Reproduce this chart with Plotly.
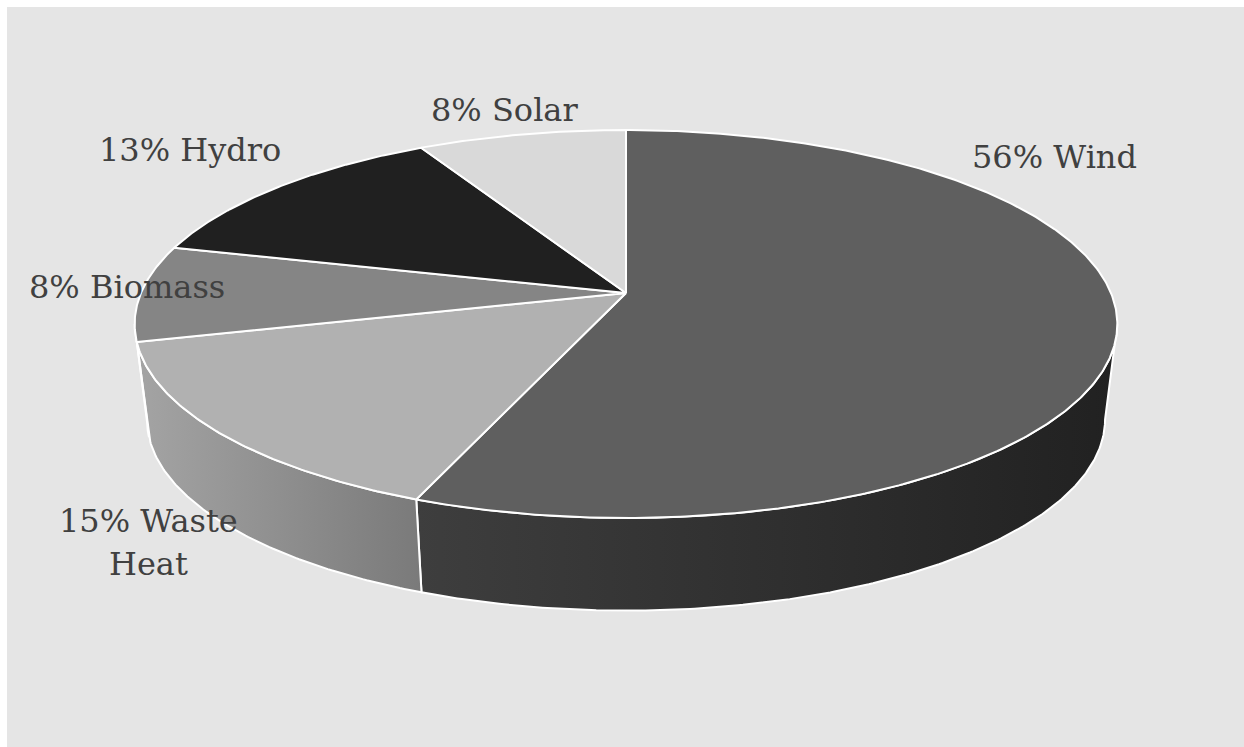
import math
import plotly.graph_objects as go

# ---- data ----
categories = ["Wind", "Waste Heat", "Biomass", "Hydro", "Solar"]
values = [56, 15, 8, 13, 8]
label_names = ["Wind", "Waste<br>Heat", "Biomass", "Hydro", "Solar"]

# ---- styles ----
top_colors = ["#5f5f5f", "#b1b1b1", "#858585", "#202020", "#d9d9d9"]
side_grad = [("#3e3e3e", "#212121"), ("#a4a4a4", "#7a7a7a"), ("#6c6c6c", "#6c6c6c"),
             ("#151515", "#151515"), ("#c0c0c0", "#c0c0c0")]
label_pos = [(1054, 157), (148, 521), (127, 287), (190, 150), (504, 110)]
LINE_GAP = 43

W, H = 1244, 747
CX, CY = 626, 293      # projected centre of the top face
A, B, K = 485, 189, 0.16   # radii and perspective factor
BOT_SX, BOT_SY, BOT_CY = 0.975, 0.985, 389

def top_pt(theta):
    t = math.radians(theta)
    d = 1 + K * math.sin(t)
    return CX + A * math.cos(t) / d, CY - B * math.sin(t) / d

def bot_pt(theta):
    x, y = top_pt(theta)
    return CX + BOT_SX * (x - CX), BOT_CY + BOT_SY * (y - CY)

def arc(fn, a0, a1, step=0.5):
    n = max(2, int(abs(a1 - a0) / step) + 1)
    pts = [fn(a0 + (a1 - a0) * i / (n - 1)) for i in range(n)]
    return [p[0] for p in pts], [p[1] for p in pts]

total = sum(values)
cum = [0]
for v in values:
    cum.append(cum[-1] + v)
angles = [90 - 360 * c / total for c in cum]   # start at 12 o'clock, clockwise

sil = math.degrees(math.asin(K))
vis_hi, vis_lo = -sil, -180 + sil   # visible side span

fig = go.Figure()

# sides
for i in range(len(values)):
    a0, a1 = angles[i], angles[i + 1]
    hi, lo = min(a0, vis_hi), max(a1, vis_lo)
    if hi <= lo:
        continue
    xt, yt = arc(top_pt, hi, lo)
    xb, yb = arc(bot_pt, lo, hi)
    c0, c1 = side_grad[i]
    fig.add_trace(go.Scatter(
        x=xt + xb + [xt[0]], y=yt + yb + [yt[0]], mode="lines", fill="toself",
        fillgradient=dict(type="horizontal", colorscale=[[0, c0], [1, c1]]),
        line=dict(color="white", width=2), hoverinfo="skip", showlegend=False))

# top face wedges
for i in range(len(values)):
    xa, ya = arc(top_pt, angles[i], angles[i + 1])
    fig.add_trace(go.Scatter(
        x=[CX] + xa + [CX], y=[CY] + ya + [CY], mode="lines", fill="toself",
        fillcolor=top_colors[i], line=dict(color="white", width=2),
        hoverinfo="skip", showlegend=False, name=categories[i]))

for i in range(len(values)):
    text = f"{values[i]}% {label_names[i]}"
    for j, line in enumerate(text.split("<br>")):
        fig.add_annotation(x=label_pos[i][0], y=label_pos[i][1] + j * LINE_GAP,
                           text=line, showarrow=False,
                           xanchor="center", yanchor="middle",
                           font=dict(family="DejaVu Serif", size=32, color="#404040"))

fig.add_shape(type="rect", x0=7, y0=7, x1=W, y1=H, fillcolor="#e5e5e5",
              line=dict(width=0), layer="below")

fig.update_layout(
    width=W, height=H, margin=dict(l=0, r=0, t=0, b=0),
    paper_bgcolor="white", plot_bgcolor="white",
    xaxis=dict(range=[0, W], visible=False, fixedrange=True),
    yaxis=dict(range=[H, 0], visible=False, fixedrange=True),
)
fig.write_html("out.html")
